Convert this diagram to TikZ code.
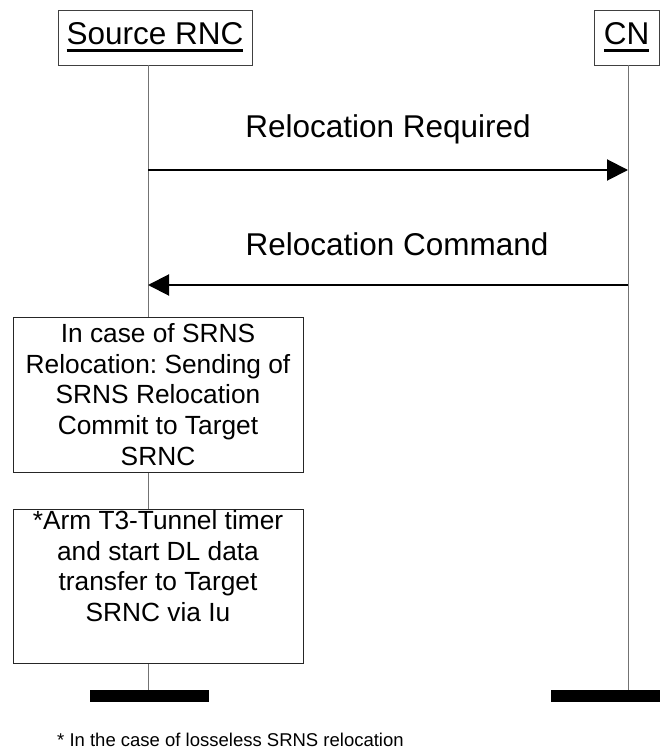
\documentclass[tikz,border=0pt]{standalone}
\usepackage{fontspec}
\setmainfont{Liberation Sans}
\usetikzlibrary{arrows.meta}
\frenchspacing
\newcommand\heavyul[1]{\setbox0\hbox{#1}\rlap{\raisebox{-7pt}{\rule{\wd0}{3.2pt}}}\box0}
\tikzset{
  entity/.style={draw=black!75, line width=0.9pt, inner sep=0pt, minimum height=55pt,
    font=\fontsize{31.5}{36}\selectfont},
  lifeline/.style={draw=black!55, line width=1pt},
  msg/.style={draw=black, line width=2pt, -{Triangle[length=21pt,width=21pt]}},
  msglabel/.style={font=\fontsize{31.5}{36}\selectfont, inner sep=0pt},
  actionbox/.style={draw=black!85, line width=1pt, align=center, inner sep=0pt,
    minimum width=290pt, font=\fontsize{26.3}{30.7}\selectfont},
  endbar/.style={fill=black, draw=none, minimum width=119pt, minimum height=12pt, inner sep=0pt},
  footnote/.style={font=\fontsize{18.5}{22}\selectfont, inner sep=0pt, anchor=base west}
}
\begin{document}
\begin{tikzpicture}[x=1pt,y=-1pt]
\useasboundingbox (0,0) rectangle (660,751);

% entities
\node[entity, minimum width=194pt] (src) at (155,37.5) {\heavyul{Source RNC}};
\node[entity, minimum width=65pt] (cn) at (626.5,37.5) {\heavyul{CN}};

% end-of-lifeline bars
\node[endbar] (srcbar) at (149.5,696) {};
\node[endbar, anchor=west] (cnbar) at (551,696) {};

% lifelines
\coordinate (srctop) at (148,65);
\coordinate (cntop) at (628,65);
\draw[lifeline] (srctop) -- (srcbar.north -| srctop);
\draw[lifeline] (cntop) -- (cnbar.north -| cntop);

% messages
\coordinate (req-s) at (148,170);
\coordinate (req-c) at (628,170);
\coordinate (cmd-s) at (148,285);
\coordinate (cmd-c) at (628,285);
\draw[msg] (req-s) -- (req-c) node[msglabel, midway, yshift=41pt] (reqlbl) {Relocation Required};
\draw[msg] (cmd-c) -- (cmd-s) node[msglabel, midway, yshift=41pt, xshift=9pt] (cmdlbl) {Relocation Command};

% local actions on the source RNC
\node[actionbox, fill=white, minimum height=155pt] (commit) at (158,394.5)
  {In case of SRNS\\Relocation: Sending of\\SRNS Relocation\\Commit to Target\\SRNC};
\node[actionbox, fill=white, minimum height=154pt] (arm) at (158,586)
  {*Arm T3-Tunnel timer\\and start DL data\\transfer to Target\\SRNC via Iu\\\strut};

% footnote
\node[footnote] (note) at (57,746) {* In the case of losseless SRNS relocation};
\end{tikzpicture}
\end{document}
